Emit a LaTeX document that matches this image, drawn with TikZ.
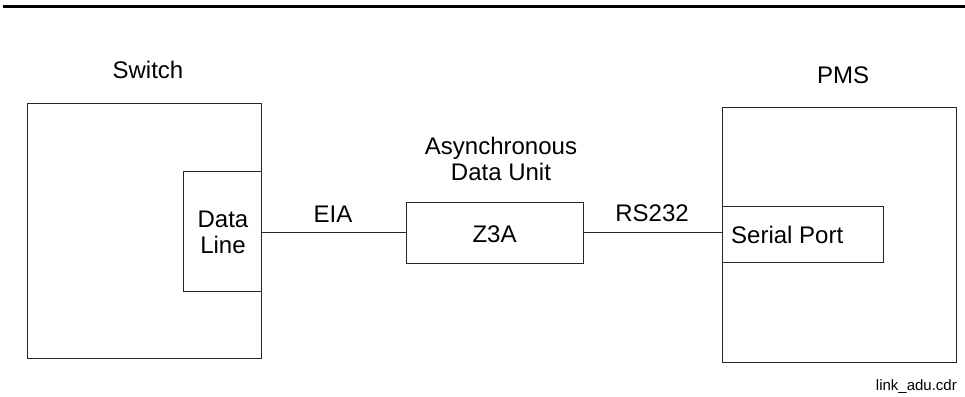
\documentclass[tikz,border=0pt]{standalone}
\usepackage{fontspec}
\setmainfont{Liberation Sans}
\begin{document}
\begin{tikzpicture}[x=1pt,y=-1pt,
  box/.style={draw=black!85,line width=0.9pt,inner sep=0pt,rectangle},
  lbl/.style={inner sep=0pt,font=\fontsize{24}{26.5}\selectfont},
  conn/.style={draw=black!85,line width=0.9pt},
  small/.style={inner sep=0pt,font=\fontsize{15}{17}\selectfont}]
\useasboundingbox (0,0) rectangle (965,396);
\coordinate (ruleL) at (3,6.5);
\coordinate (ruleR) at (965,6.5);
\draw[line width=3.5pt] (ruleL) -- (ruleR);
% boxes
\node[box,minimum width=234pt,minimum height=255pt] (switch) at (144,230.5) {};
\node[box,fill=white,minimum width=78pt,minimum height=120pt] (dl) at (222,231) {};
\node[box,minimum width=177pt,minimum height=61pt] (z) at (494.5,232.5) {};
\node[box,minimum width=234pt,minimum height=255pt] (pms) at (839,234.5) {};
\node[box,fill=white,minimum width=161pt,minimum height=56pt] (serial) at (802.5,234) {};
% texts
\node[lbl,align=center] (dltext) at (223,232.5) {Data\\Line};
\node[lbl] (ztext) at (494.5,234) {Z3A};
\node[lbl,anchor=west] (sptext) at (731,234.5) {Serial Port};
\node[lbl,anchor=base] (swlbl) at (148,78) {Switch};
\node[lbl,anchor=base] (pmslbl) at (843,83) {PMS};
\node[lbl,align=center] (adu) at (501,159) {Asynchronous\\Data Unit};
\node[lbl,anchor=base] (eia) at (333,222) {EIA};
\node[lbl,anchor=base] (rs) at (652,221) {RS232};
\node[small,anchor=base east] (file) at (957,390) {link\_adu.cdr};
% connectors
\draw[conn] (dl.east |- z.west) -- (z.west);
\draw[conn] (z.east) -- (serial.west |- z.east);
\end{tikzpicture}
\end{document}
